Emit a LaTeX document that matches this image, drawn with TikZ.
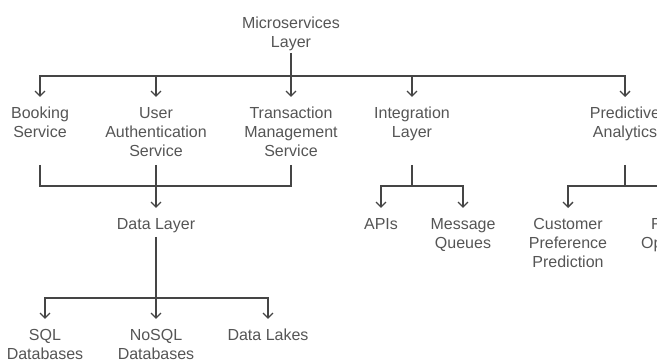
\documentclass[tikz,border=0pt]{standalone}
\usepackage{fontspec}
\setmainfont{Liberation Sans}
\usetikzlibrary{arrows.meta}
\definecolor{txt}{HTML}{555555}
\definecolor{ln}{HTML}{454545}
\begin{document}
\begin{tikzpicture}[x=1pt,y=-1pt,
 lbl/.style={inner sep=0pt, anchor=north, align=center, text=txt, font=\fontsize{16}{19}\selectfont},
 conn/.style={draw=ln, line width=1.4pt},
 arr/.style={conn, -{Straight Barb[length=5pt,width=10pt]}, shorten >=10pt},
]
\useasboundingbox (0,0) rectangle (657,363);
\clip (0,0) rectangle (657,363);
\node[lbl] (ms) at (291,17) {Microservices\\Layer};
\node[lbl] (bs) at (40,107) {Booking\\Service};
\node[lbl] (ua) at (156,107) {User\\Authentication\\Service};
\node[lbl] (tm) at (291,107) {Transaction\\Management\\Service};
\node[lbl] (il) at (412,107) {Integration\\Layer};
\node[lbl] (pa) at (625,107) {Predictive\\Analytics};
\node[lbl] (dl) at (156,218) {Data Layer};
\node[lbl] (api) at (381,218) {APIs};
\node[lbl] (mq) at (463,218) {Message\\Queues};
\node[lbl] (cpp) at (568,218) {Customer\\Preference\\Prediction};
\node[lbl, anchor=north west, align=left] (ro) at (641,218) {\hspace*{10pt}R\\Op};
\node[lbl] (sql) at (45,329) {SQL\\Databases};
\node[lbl] (nosql) at (156,329) {NoSQL\\Databases};
\node[lbl] (dlk) at (268,329) {Data Lakes};
\coordinate (b1) at (291,76);
\coordinate (j1) at (156,186);
\coordinate (b2) at (156,298);
\coordinate (j2) at (412,186);
\coordinate (j3) at (625,186);
\coordinate (edge) at (660,186);
% top level
\draw[conn] ([yshift=-36pt]ms.north) -- (b1);
\draw[arr] (b1) -| (bs.north);
\draw[arr] (b1) -| (ua.north);
\draw[arr] (b1) -- (tm.north);
\draw[arr] (b1) -| (il.north);
\draw[arr] (b1) -| (pa.north);
% services to data layer
\draw[conn] ([yshift=-58pt]bs.north) |- (j1);
\draw[conn] ([yshift=-58pt]tm.north) |- (j1);
\draw[arr] ([yshift=-58pt]ua.north) -- (dl.north);
% data layer
\draw[conn] ([yshift=-19pt]dl.north) -- (b2);
\draw[arr] (b2) -| (sql.north);
\draw[arr] (b2) -- (nosql.north);
\draw[arr] (b2) -| (dlk.north);
% integration
\draw[conn] ([yshift=-58pt]il.north) -- (j2);
\draw[arr] (j2) -| (api.north);
\draw[arr] (j2) -| (mq.north);
% predictive
\draw[conn] ([yshift=-58pt]pa.north) -- (j3);
\draw[arr] (j3) -| (cpp.north);
\draw[conn] (j3) -- (edge);
\end{tikzpicture}
\end{document}
